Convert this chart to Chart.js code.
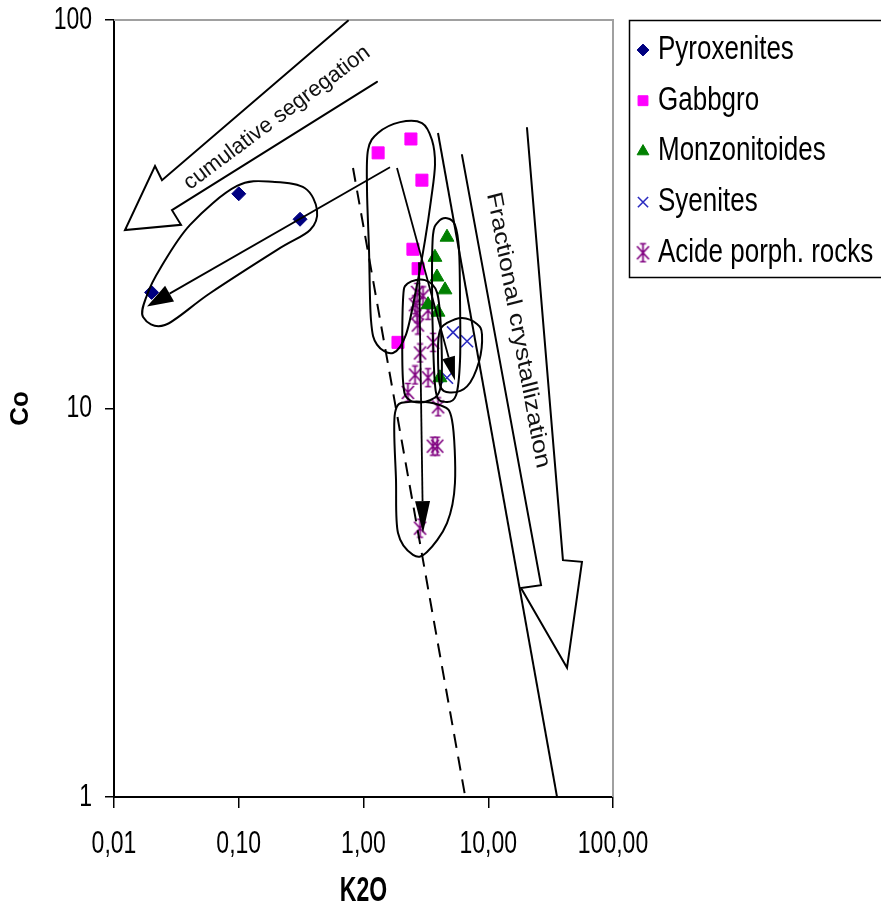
<!DOCTYPE html>
<html>
<head>
<meta charset="utf-8">
<title>Co vs K2O</title>
<script src="https://cdn.jsdelivr.net/npm/chart.js@4.4.0/dist/chart.umd.min.js"></script>
<style>
  html, body { margin: 0; padding: 0; background: #fff; }
  #wrap { width: 881px; height: 915px; position: relative; }
</style>
</head>
<body>
<div id="wrap"><canvas id="chart" width="881" height="915"></canvas></div>
<script>
// ---- axis ticks ----
const xTicks = [0.01, 0.1, 1, 10, 100];
const xTickLabels = ['0,01', '0,10', '1,00', '10,00', '100,00'];
const yTicks = [1, 10, 100];
const yTickLabels = ['1', '10', '100'];

// ---- samples: K2O (wt.%) and Co (ppm) ----
const seriesNames = ['Pyroxenites', 'Gabbgro', 'Monzonitoides', 'Syenites', 'Acide porph. rocks'];

const pyroxK2O = [0.10, 0.31, 0.020];
const pyroxCo  = [35.7, 30.7, 19.9];

const gabbroK2O = [1.31, 2.40, 2.94, 2.49, 2.74, 1.89];
const gabbroCo  = [45.5, 49.4, 38.7, 25.7, 22.9, 14.8];

const monzK2O = [4.67, 3.74, 3.88, 4.50, 3.29, 3.96, 4.10];
const monzCo  = [27.6, 24.5, 21.8, 20.2, 18.5, 17.7, 12.0];

const syenK2O = [5.22, 6.76, 4.67];
const syenCo  = [15.7, 14.9, 12.0];

const acidK2O = [2.69, 3.00, 2.59, 3.29, 2.69, 2.73, 3.61, 2.84, 2.59, 3.29, 2.27, 3.96, 3.60, 3.90, 2.84];
const acidCo  = [19.9, 19.5, 18.5, 17.9, 17.6, 16.4, 14.8, 13.9, 12.2, 12.0, 11.0, 10.1, 8.0, 8.0, 4.92];

// ---- sketched interpretation, in (K2O, Co) units ----
const pyroxOutline = [[0.0171,17.2],[0.0184,19.6],[0.0234,22.9],[0.0407,29.7],[0.0968,37.4],[0.195,38.3],[0.340,36.9],[0.424,32.4],[0.373,28.8],[0.203,25.6],[0.0588,19.8],[0.0256,16.4]];
const gabbroOutline = [[1.087,46.3],[1.307,51.2],[1.962,54.6],[2.944,54.3],[3.54,49.1],[3.742,42.4],[3.476,34.4],[3.112,27.1],[2.636,20.2],[2.191,15.5],[1.724,13.9],[1.283,14.6],[1.148,16.9],[1.107,25.6],[1.067,36.5]];
const monzOutline = [[3.607,27.97],[3.955,30.2],[4.67,30.9],[5.41,29.7],[5.83,25.6],[5.94,19.0],[5.94,13.3],[5.51,10.8],[4.50,10.4],[3.81,11.0],[3.607,15.0],[3.54,21.4]];
const syenOutline = [[4.67,16.6],[6.16,17.1],[8.12,16.5],[8.91,15.5],[8.43,13.2],[6.76,11.4],[4.93,11.0],[4.10,11.5],[3.955,14.1],[4.10,15.9]];
const acidUpperOutline = [[2.073,19.0],[2.274,21.0],[3.112,21.4],[3.88,19.9],[4.18,15.9],[4.18,11.5],[3.413,10.5],[2.359,10.5],[2.073,11.8]];
const acidLowerOutline = [[1.789,9.74],[1.822,6.55],[1.891,4.78],[2.494,4.20],[3.228,4.27],[4.67,5.07],[5.41,6.43],[5.12,9.34],[4.10,10.2],[2.359,10.4]];

const dashedTrend = [[0.824,41.6],[6.51,1.01]];
const solidTrend  = [[3.955,51.2],[35.6,1.0]];

// open outlines of the two broad arrows
const segregationArrow = [[0.751,99.5],[0.02425,38.7],[0.02132,42.1],[0.01225,28.8],[0.03444,29.7],[0.02917,32.4],[1.283,69.3]];
const fractionationArrow = [[20.45,52.7],[39.7,4.07],[56.4,4.03],[42.8,2.15],[18.3,3.45],[26.5,3.51],[6.16,44.9]];

// evolution paths with solid heads
const pathArrows = [
  { from: [1.631, 41.8], to: [0.0184, 18.3], len: 26, half: 9 },
  { from: [1.856, 41.6], to: [5.41, 11.8],  len: 24, half: 6.5 },
  { from: [2.786, 23.8], to: [3.00, 4.78],  len: 32, half: 7.5 }
];

const arrowNotes = [
  { text: 'cumulative segregation',     at: [0.2026, 56.0], angle: -36.6, size: 22, k: 1.0 },
  { text: 'Fractional crystallization', at: [17.3, 15.9],   angle: 79.7,  size: 22, k: 1.2 }
];

// ---- styling ----
const plainFamily = "'Liberation Sans', Arial, Helvetica, sans-serif";

function asteriskMark(color) {
  const c = document.createElement('canvas');
  c.width = 17; c.height = 21;
  const g = c.getContext('2d');
  g.strokeStyle = color; g.lineWidth = 1.7;
  g.beginPath();
  g.moveTo(8.5, 1.5); g.lineTo(8.5, 19.5);
  g.moveTo(2.5, 4);   g.lineTo(14.5, 17);
  g.moveTo(14.5, 4);  g.lineTo(2.5, 17);
  g.moveTo(5.5, 1.5); g.lineTo(11.5, 1.5);
  g.moveTo(5.5, 19.5); g.lineTo(11.5, 19.5);
  g.stroke();
  return c;
}

const pts = (xs, ys) => xs.map((v, i) => ({ x: v, y: ys[i] }));

const datasets = [
  { label: seriesNames[0], data: pts(pyroxK2O, pyroxCo), pointStyle: 'rectRot', pointRadius: 7,
    backgroundColor: '#000080', borderColor: '#000080', borderWidth: 1 },
  { label: seriesNames[1], data: pts(gabbroK2O, gabbroCo), pointStyle: 'rect', pointRadius: 8.5,
    backgroundColor: '#ff00ff', borderColor: '#ff00ff', borderWidth: 1 },
  { label: seriesNames[2], data: pts(monzK2O, monzCo), pointStyle: 'triangle', pointRadius: 8,
    backgroundColor: '#008000', borderColor: '#008000', borderWidth: 1 },
  { label: seriesNames[3], data: pts(syenK2O, syenCo), pointStyle: 'crossRot', pointRadius: 8.5,
    backgroundColor: '#2b2bc0', borderColor: '#2b2bc0', borderWidth: 1.6 },
  { label: seriesNames[4], data: pts(acidK2O, acidCo), pointStyle: asteriskMark('#800080'), pointRadius: 9,
    backgroundColor: '#800080', borderColor: '#800080', borderWidth: 1 }
];

// ---- drawing helpers ----
function smoothClosed(ctx, p) {
  const n = p.length, t = 1 / 6;
  ctx.beginPath();
  ctx.moveTo(p[0][0], p[0][1]);
  for (let i = 0; i < n; i++) {
    const p0 = p[(i - 1 + n) % n], p1 = p[i], p2 = p[(i + 1) % n], p3 = p[(i + 2) % n];
    ctx.bezierCurveTo(
      p1[0] + (p2[0] - p0[0]) * t, p1[1] + (p2[1] - p0[1]) * t,
      p2[0] - (p3[0] - p1[0]) * t, p2[1] - (p3[1] - p1[1]) * t,
      p2[0], p2[1]);
  }
  ctx.closePath();
  ctx.stroke();
}

function polyline(ctx, p) {
  ctx.beginPath();
  ctx.moveTo(p[0][0], p[0][1]);
  for (let i = 1; i < p.length; i++) ctx.lineTo(p[i][0], p[i][1]);
  ctx.stroke();
}

function headedLine(ctx, a, b, len, half) {
  const dx = b[0] - a[0], dy = b[1] - a[1], L = Math.hypot(dx, dy);
  const ux = dx / L, uy = dy / L;
  const bx = b[0] - ux * len, by = b[1] - uy * len;
  ctx.beginPath(); ctx.moveTo(a[0], a[1]); ctx.lineTo(bx, by); ctx.stroke();
  ctx.beginPath();
  ctx.moveTo(b[0], b[1]);
  ctx.lineTo(bx - uy * half, by + ux * half);
  ctx.lineTo(bx + uy * half, by - ux * half);
  ctx.closePath(); ctx.fill();
}

// text laid along a direction; k > 1 draws the glyphs taller on screen
function stretchedText(ctx, text, cx, cy, angleDeg, k) {
  const t = angleDeg * Math.PI / 180;
  const phi = Math.atan2(Math.sin(t) / k, Math.cos(t));
  ctx.save();
  ctx.translate(cx, cy);
  ctx.scale(1, k);
  ctx.rotate(phi);
  ctx.textAlign = 'center';
  ctx.textBaseline = 'middle';
  ctx.fillText(text, 0, 0);
  ctx.restore();
}

// Axis texts use tall, narrow lettering: each label/title is scaled
// vertically about its own anchor while the scale draws it.
function tallText(scale, method, k) {
  const base = Object.getPrototypeOf(scale)[method];
  scale[method] = function (...args) {
    const ctx = this.ctx;
    const translate = ctx.translate;
    ctx.translate = function (tx, ty) { translate.call(ctx, tx, ty); ctx.scale(1, k); };
    try { return base.apply(this, args); } finally { ctx.translate = translate; }
  };
}

const sketchPlugin = {
  id: 'sketch',
  beforeDatasetsDraw(chart) {
    const { ctx, chartArea: a } = chart;
    ctx.save();
    ctx.strokeStyle = '#a0a0a0';
    ctx.lineWidth = 2;
    ctx.beginPath();
    ctx.moveTo(a.left, a.top); ctx.lineTo(a.right, a.top); ctx.lineTo(a.right, a.bottom);
    ctx.stroke();
    ctx.restore();
  },
  afterDatasetsDraw(chart) {
    const { ctx, chartArea: a, scales: { x, y } } = chart;
    const P = p => [x.getPixelForValue(p[0]), y.getPixelForValue(p[1])];
    ctx.save();
    ctx.beginPath();
    ctx.rect(a.left, a.top - 1, a.right - a.left, a.bottom - a.top + 1);
    ctx.clip();
    ctx.strokeStyle = '#000';
    ctx.fillStyle = '#000';
    ctx.lineWidth = 2;
    ctx.lineJoin = 'round';
    ctx.lineCap = 'round';

    [pyroxOutline, gabbroOutline, monzOutline, syenOutline, acidUpperOutline, acidLowerOutline]
      .forEach(o => smoothClosed(ctx, o.map(P)));

    ctx.lineJoin = 'miter';
    polyline(ctx, segregationArrow.map(P));
    polyline(ctx, fractionationArrow.map(P));

    ctx.lineCap = 'butt';
    polyline(ctx, solidTrend.map(P));
    ctx.setLineDash([14, 9]);
    polyline(ctx, dashedTrend.map(P));
    ctx.setLineDash([]);

    ctx.lineWidth = 1.8;
    pathArrows.forEach(r => headedLine(ctx, P(r.from), P(r.to), r.len, r.half));

    ctx.fillStyle = '#111';
    arrowNotes.forEach(n => {
      const c = P(n.at);
      ctx.font = n.size + 'px ' + plainFamily;
      stretchedText(ctx, n.text, c[0], c[1], n.angle, n.k);
    });
    ctx.restore();
  },
  afterDraw(chart) {
    const { ctx } = chart;
    ctx.save();
    // legend box
    ctx.strokeStyle = '#000';
    ctx.lineWidth = 1.5;
    ctx.strokeRect(629.5, 20.5, 300, 257);
    chart.data.datasets.forEach((ds, i) => {
      const cy = 50 + i * 50.7;
      ctx.fillStyle = ds.backgroundColor;
      ctx.strokeStyle = ds.borderColor;
      ctx.lineWidth = ds.borderWidth;
      Chart.helpers.drawPoint(ctx, {
        pointStyle: ds.pointStyle, rotation: 0,
        radius: ds.pointStyle === 'rect' ? 7 : ds.pointRadius * 0.85,
        borderWidth: ds.borderWidth
      }, 643, cy);
      ctx.fillStyle = '#000';
      ctx.font = '26px ' + plainFamily;
      ctx.textAlign = 'left';
      ctx.textBaseline = 'middle';
      ctx.save();
      ctx.translate(658, cy);
      ctx.scale(1, 1.25);
      ctx.fillText(ds.label, 0, 0);
      ctx.restore();
    });
    ctx.restore();
  }
};

const tickFont = { family: plainFamily, size: 23 };

new Chart(document.getElementById('chart'), {
  type: 'scatter',
  data: { datasets },
  options: {
    responsive: false,
    animation: false,
    devicePixelRatio: 1,
    layout: { padding: { left: 0, top: 20, right: 268, bottom: 0 } },
    plugins: { legend: { display: false }, tooltip: { enabled: false } },
    elements: { point: { hoverRadius: 0 } },
    scales: {
      x: {
        type: 'logarithmic',
        position: 'bottom',
        min: 0.01, max: 100,
        afterBuildTicks: s => { s.ticks = xTicks.map(v => ({ value: v })); },
        afterFit: s => {
          s.height = 118; s.paddingLeft = 0; s.paddingRight = 0;
          tallText(s, 'drawLabels', 1.4);
          tallText(s, 'drawTitle', 1.55);
        },
        ticks: {
          autoSkip: false, maxRotation: 0, minRotation: 0,
          callback: (v, i) => xTickLabels[i],
          font: tickFont, color: '#000', padding: 17
        },
        grid: { drawOnChartArea: false, color: '#000', lineWidth: 1.5, tickLength: 11 },
        border: { color: '#000', width: 2 },
        title: { display: true, text: 'K2O', font: { family: plainFamily, size: 23, weight: 'bold' },
                 color: '#000', padding: { top: 0, bottom: 10 } }
      },
      y: {
        type: 'logarithmic',
        position: 'left',
        min: 1, max: 100,
        afterBuildTicks: s => { s.ticks = yTicks.map(v => ({ value: v })); },
        afterFit: s => {
          s.width = 114; s.paddingTop = 0; s.paddingBottom = 0;
          tallText(s, 'drawLabels', 1.4);
        },
        ticks: {
          autoSkip: false,
          callback: (v, i) => yTickLabels[i],
          font: tickFont, color: '#000', padding: 13
        },
        grid: { drawOnChartArea: false, color: '#000', lineWidth: 1.5, tickLength: 9 },
        border: { color: '#000', width: 2 },
        title: { display: true, text: 'Co', font: { family: plainFamily, size: 26, weight: 'bold' },
                 color: '#000', padding: { top: 5, bottom: 0 } }
      }
    }
  },
  plugins: [sketchPlugin]
});
</script>
</body>
</html>
